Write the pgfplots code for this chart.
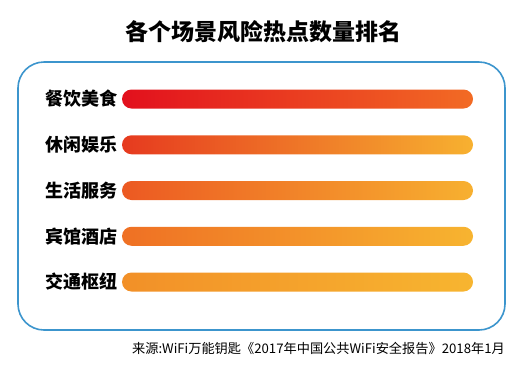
\documentclass[border=0pt]{standalone}
\usepackage{pgfplots}
\pgfplotsset{compat=1.18}
\usepackage{fontspec}
\newfontfamily\cjk{Noto Sans CJK SC}
\definecolor{boxblue}{HTML}{3C95CD}
\definecolor{aL}{HTML}{E2101D}\definecolor{aR}{HTML}{F26B24}
\definecolor{bL}{HTML}{E63A1F}\definecolor{bR}{HTML}{F7B130}
\definecolor{cL}{HTML}{EC5922}\definecolor{cR}{HTML}{F7B030}
\definecolor{dL}{HTML}{EF7024}\definecolor{dR}{HTML}{F7B430}
\definecolor{eL}{HTML}{F29028}\definecolor{eR}{HTML}{F7B530}
\begin{document}
\begin{tikzpicture}[x=1bp,y=1bp]
\path[use as bounding box] (0,0) rectangle (515,-367);
\node[font=\cjk\bfseries\fontsize{23bp}{27bp}\selectfont] at (263,-32) {各个场景风险热点数量排名};
\draw[boxblue, line width=1.6bp, rounded corners=26bp] (18,-62) rectangle (505,-330);
\begin{axis}[
  at={(122bp,-282bp)}, anchor=south west,
  scale only axis, width=351bp, height=183bp,
  xmin=0, xmax=100, ymin=1, ymax=5,
  clip=false,
  axis line style={draw=none},
  major tick length=0pt,
  xtick=\empty,
  ytick={1,2,3,4,5},
  yticklabels={交通枢纽,宾馆酒店,生活服务,休闲娱乐,餐饮美食},
  yticklabel style={font=\cjk\bfseries\fontsize{18bp}{20bp}\selectfont, inner sep=0pt, xshift=-4bp},
  xbar, bar width=19bp, bar shift=0pt,
]
\addplot[draw=none, left color=aL, right color=aR, rounded corners=9.5bp] coordinates {(100,5)};
\addplot[draw=none, left color=bL, right color=bR, rounded corners=9.5bp] coordinates {(100,4)};
\addplot[draw=none, left color=cL, right color=cR, rounded corners=9.5bp] coordinates {(100,3)};
\addplot[draw=none, left color=dL, right color=dR, rounded corners=9.5bp] coordinates {(100,2)};
\addplot[draw=none, left color=eL, right color=eR, rounded corners=9.5bp] coordinates {(100,1)};
\end{axis}
\node[anchor=east, inner sep=0pt, font=\cjk\fontsize{13.2bp}{15bp}\selectfont] at (505,-348) {来源:WiFi万能钥匙《2017年中国公共WiFi安全报告》2018年1月};
\end{tikzpicture}
\end{document}
